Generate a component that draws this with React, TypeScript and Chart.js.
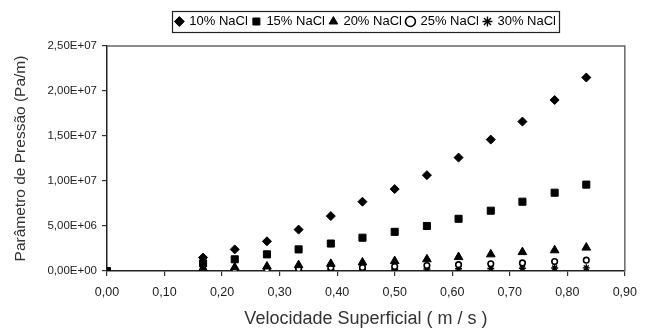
import React, { useEffect, useRef } from "react";
import { Chart, registerables, layouts } from "chart.js";

Chart.register(...registerables);

const velocities = [0, 0.167, 0.222, 0.278, 0.333, 0.389, 0.444, 0.5, 0.556, 0.611, 0.667, 0.722, 0.778, 0.833];
const nacl10 = [null, 1.5e6, 2.4e6, 3.3e6, 4.6e6, 6.1e6, 7.7e6, 9.1e6, 10.65e6, 12.6e6, 14.6e6, 16.6e6, 19.0e6, 21.5e6];
const nacl15 = [0, 0.85e6, 1.3e6, 1.85e6, 2.4e6, 3.05e6, 3.7e6, 4.35e6, 5.0e6, 5.8e6, 6.7e6, 7.7e6, 8.7e6, 9.6e6];
const nacl20 = [null, 0.3e6, 0.4e6, 0.5e6, 0.65e6, 0.8e6, 0.95e6, 1.1e6, 1.3e6, 1.55e6, 1.85e6, 2.1e6, 2.3e6, 2.6e6];
const nacl25 = [null, 0.1e6, 0.15e6, 0.2e6, 0.25e6, 0.35e6, 0.4e6, 0.5e6, 0.6e6, 0.7e6, 0.8e6, 0.9e6, 1.05e6, 1.2e6];
const nacl30 = [null, 0.05e6, 0.08e6, 0.1e6, 0.12e6, 0.15e6, 0.18e6, 0.2e6, 0.22e6, 0.25e6, 0.28e6, 0.3e6, 0.33e6, 0.35e6];
const seriesLabels = ["10% NaCl", "15% NaCl", "20% NaCl", "25% NaCl", "30% NaCl"];
const xTitle = "Velocidade Superficial ( m / s )";
const yTitle = "Parâmetro de Pressão (Pa/m)";

const FONT = "Liberation Sans, Arial, sans-serif";

function toPoints(vals: (number | null)[]) {
  const out: { x: number; y: number }[] = [];
  vals.forEach((v, i) => {
    if (v !== null) out.push({ x: velocities[i], y: v });
  });
  return out;
}

function sci(v: number) {
  if (v === 0) return "0,00E+00";
  const e = Math.floor(Math.log10(Math.abs(v)) + 1e-9);
  const m = v / Math.pow(10, e);
  const es = (e < 0 ? "-" : "+") + String(Math.abs(e)).padStart(2, "0");
  return m.toFixed(2).replace(".", ",") + "E" + es;
}

const spacerPlugin = {
  id: "spacerBox",
  beforeInit(chart: any) {
    const box: any = {
      position: "top",
      weight: 500,
      fullSize: false,
      options: {},
      left: 0,
      top: 0,
      right: 0,
      bottom: 0,
      width: 0,
      height: 0,
      update(maxWidth: number) {
        box.width = maxWidth;
        box.height = 8;
      },
      getPadding() {
        return { left: 0, top: 0, right: 0, bottom: 0 };
      },
      isHorizontal() {
        return true;
      },
      draw() {},
    };
    layouts.addBox(chart, box);
  },
};

const frameLegend = {
  id: "frameLegend",
  afterDraw(chart: any) {
    const ctx = chart.ctx;
    const a = chart.chartArea;
    ctx.save();
    ctx.strokeStyle = "#666";
    ctx.lineWidth = 1.5;
    ctx.beginPath();
    ctx.moveTo(a.left, a.top);
    ctx.lineTo(a.right, a.top);
    ctx.lineTo(a.right, a.bottom);
    ctx.stroke();
    const boxes = chart.legend && chart.legend.legendHitBoxes;
    if (boxes && boxes.length) {
      let minX = Infinity, maxX = -Infinity, minY = Infinity, maxY = -Infinity;
      boxes.forEach((b: any) => {
        minX = Math.min(minX, b.left);
        maxX = Math.max(maxX, b.left + b.width);
        minY = Math.min(minY, b.top);
        maxY = Math.max(maxY, b.top + b.height);
      });
      ctx.strokeStyle = "#222";
      ctx.lineWidth = 1.2;
      ctx.strokeRect(Math.round(minX - 4) + 0.5, Math.round(minY - 4) + 0.5, Math.round(maxX - minX + 7), Math.round(maxY - minY + 8));
    }
    ctx.restore();
  },
};

export default function App() {
  const ref = useRef<HTMLCanvasElement | null>(null);
  useEffect(() => {
    if (!ref.current) return;
    const common = { borderColor: "#000", backgroundColor: "#000", borderWidth: 1, showLine: false };
    const chart = new Chart(ref.current, {
      type: "scatter",
      data: {
        datasets: [
          { ...common, label: seriesLabels[0], data: toPoints(nacl10), pointStyle: "rectRot", pointRadius: 4.5 },
          { ...common, label: seriesLabels[1], data: toPoints(nacl15), pointStyle: "rect", pointRadius: 5 },
          { ...common, label: seriesLabels[2], data: toPoints(nacl20), pointStyle: "triangle", pointRadius: 5 },
          { ...common, label: seriesLabels[3], data: toPoints(nacl25), pointStyle: "circle", pointRadius: 2.8, backgroundColor: "#fff", borderWidth: 1.6 },
          { ...common, label: seriesLabels[4], data: toPoints(nacl30), pointStyle: "star", pointRadius: 3.5, borderWidth: 1.4 },
        ],
      },
      options: {
        animation: false,
        responsive: false,
        maintainAspectRatio: false,
        layout: { padding: { left: 0, right: 14, top: 10, bottom: 0 } },
        plugins: {
          tooltip: { enabled: false },
          legend: {
            position: "top",
            fullSize: false,
            weight: 1000,
            labels: {
              usePointStyle: true,
              boxWidth: 7,
              boxHeight: 7,
              padding: 5,
              color: "#000",
              font: { family: FONT, size: 13 },
            },
          },
        },
        scales: {
          x: {
            type: "linear",
            min: 0,
            max: 0.9,
            afterFit: (s: any) => {
              s.height = 57;
            },
            ticks: {
              stepSize: 0.1,
              color: "#222",
              font: { family: FONT, size: 12.5 },
              padding: 9,
              maxRotation: 0,
              callback: (v: any) => Number(v).toFixed(2).replace(".", ","),
            },
            grid: { drawOnChartArea: false, tickLength: 5, color: "#333", lineWidth: 1.2 },
            border: { color: "#222", width: 1.5 },
            title: {
              display: true,
              text: xTitle,
              color: "#333",
              font: { family: FONT, size: 18, lineHeight: 1 },
              padding: { top: 0, bottom: 0 },
            },
          },
          y: {
            type: "linear",
            min: 0,
            max: 2.5e7,
            afterFit: (s: any) => {
              s.width = 107;
            },
            ticks: {
              stepSize: 5e6,
              color: "#222",
              font: { family: FONT, size: 11.5 },
              padding: 5,
              callback: (v: any) => sci(Number(v)),
            },
            grid: { drawOnChartArea: false, tickLength: 5, color: "#333", lineWidth: 1.2 },
            border: { color: "#222", width: 1.5 },
            title: {
              display: true,
              text: yTitle,
              color: "#333",
              font: { family: FONT, size: 15.5, lineHeight: 1 },
              padding: { top: 13, bottom: 0 },
            },
          },
        },
      },
      plugins: [spacerPlugin, frameLegend],
    } as any);
    return () => chart.destroy();
  }, []);
  return (
    <div style={{ position: "fixed", left: 0, top: 0, width: 646, height: 328, background: "#fff" }}>
      <canvas ref={ref} width={646} height={328} style={{ width: 646, height: 328 }} />
    </div>
  );
}
